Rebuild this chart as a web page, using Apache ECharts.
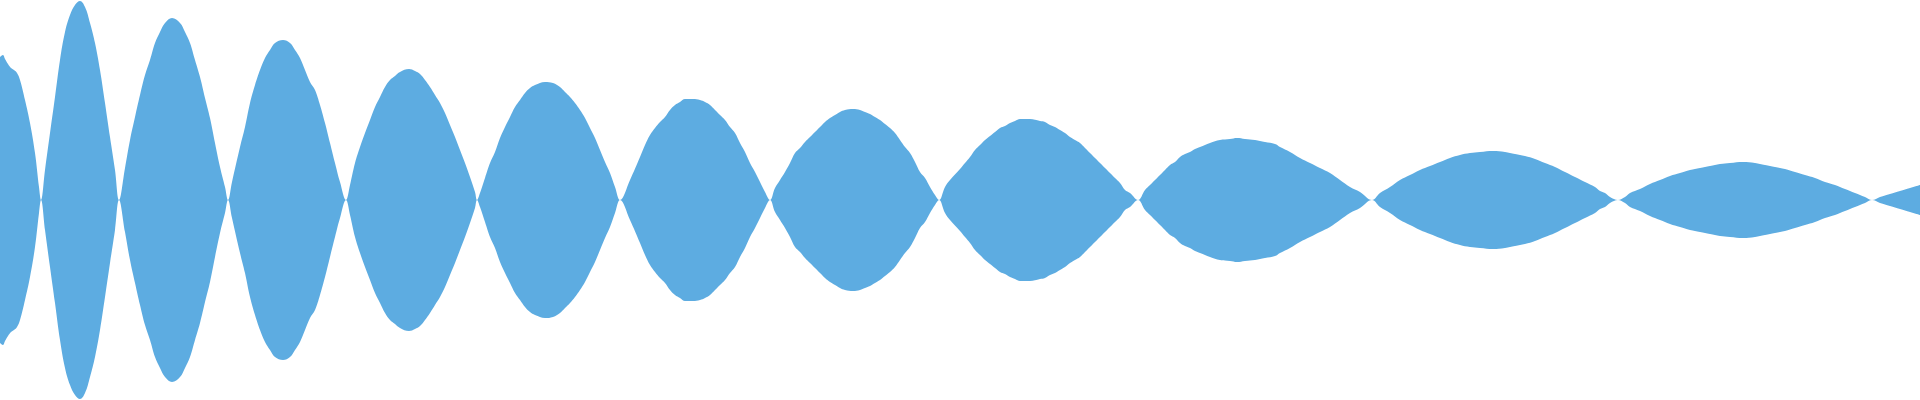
<!DOCTYPE html>
<html>
<head>
<meta charset="utf-8">
<title>envelope</title>
<script src="https://cdn.jsdelivr.net/npm/echarts@6/dist/echarts.min.js"></script>
<style>
    html, body { margin: 0; padding: 0; background: #fff; }
    #main { width: 1920px; height: 400px; }
</style>
</head>
<body>
<div id="main"></div>
<script>
// sample positions, one line per lobe
var time = [
    0, 3, 5, 8, 11, 14, 17, 20, 25, 30, 35, 39, 41,
    45, 50, 55, 60, 65, 70, 75, 80, 85, 90, 95, 100, 105, 110, 115, 119,
    125, 130, 135, 140, 145, 150, 155, 160, 165, 172, 180, 185, 190, 195, 200, 205, 210, 215, 220, 225, 228,
    232, 240, 245, 250, 255, 260, 265, 270, 275, 283, 290, 295, 300, 305, 310, 315, 320, 325, 330, 335, 340, 346,
    350, 355, 360, 365, 370, 375, 380, 385, 390, 395, 400, 409, 415, 420, 425, 430, 435, 440, 445, 450, 455, 460, 465, 470, 475, 477,
    480, 485, 490, 495, 500, 505, 510, 515, 520, 525, 530, 535, 545, 553, 560, 565, 570, 575, 580, 585, 590, 595, 600, 605, 610, 615, 620,
    630, 640, 645, 650, 655, 660, 665, 670, 675, 680, 685, 693, 700, 705, 710, 715, 720, 725, 730, 735, 740, 745, 750, 755, 760, 765, 770,
    775, 780, 785, 790, 795, 800, 805, 810, 815, 820, 825, 830, 835, 840, 845, 853, 860, 865, 870, 875, 880, 885, 890, 895, 900, 905, 910, 915, 920, 925, 930, 935, 939,
    945, 950, 960, 965, 970, 975, 980, 985, 990, 995, 1000, 1005, 1010, 1015, 1020, 1030, 1040, 1045, 1050, 1055, 1060, 1065, 1070, 1075, 1080, 1085, 1090, 1095, 1100, 1105, 1110, 1115, 1120, 1125, 1130, 1138,
    1145, 1150, 1155, 1160, 1165, 1170, 1175, 1180, 1185, 1190, 1195, 1200, 1210, 1220, 1230, 1237, 1245, 1255, 1265, 1275, 1280, 1290, 1300, 1310, 1320, 1330, 1340, 1350, 1360, 1372,
    1380, 1390, 1400, 1410, 1420, 1430, 1440, 1450, 1460, 1470, 1480, 1493, 1505, 1515, 1525, 1535, 1545, 1555, 1565, 1575, 1585, 1595, 1600, 1605, 1610, 1618,
    1625, 1630, 1640, 1650, 1660, 1670, 1680, 1690, 1700, 1710, 1720, 1730, 1743, 1755, 1765, 1775, 1785, 1795, 1805, 1815, 1825, 1835, 1845, 1855, 1865, 1872,
    1880, 1890, 1900, 1910, 1920
];

// half height of the band at each sample
var amplitude = [
    143, 145, 141, 136, 132, 130, 127, 120, 100, 77, 47, 13, 0,
    30, 67, 103, 140, 168, 185, 195, 199, 193, 177, 157, 130, 97, 63, 30, 0,
    32, 60, 83, 105, 125, 140, 157, 168, 177, 182, 177, 168, 157, 140, 123, 102, 82, 57, 33, 13, 0,
    18, 53, 73, 97, 115, 130, 142, 150, 157, 160, 157, 150, 142, 130, 118, 110, 95, 77, 57, 37, 18, 0,
    15, 37, 53, 67, 80, 93, 103, 113, 120, 124, 128, 131, 129, 126, 120, 113, 105, 97, 87, 75, 63, 50, 37, 23, 8, 0,
    7, 22, 37, 48, 62, 73, 83, 93, 100, 107, 112, 115, 118, 117, 113, 108, 103, 97, 90, 82, 72, 62, 50, 38, 27, 13, 0,
    20, 43, 55, 65, 72, 78, 83, 90, 95, 98, 101, 101, 100, 98, 95, 90, 85, 80, 73, 67, 57, 48, 37, 28, 18, 8, 0,
    12, 20, 28, 37, 47, 52, 58, 63, 68, 73, 78, 82, 85, 88, 90, 91, 90, 88, 86, 83, 80, 76, 72, 67, 60, 53, 47, 38, 28, 22, 13, 5, 0,
    13, 20, 31, 37, 43, 50, 55, 60, 64, 68, 72, 74, 77, 79, 81, 81, 79, 78, 75, 73, 70, 67, 63, 60, 57, 52, 47, 42, 37, 32, 27, 22, 17, 10, 7, 0,
    10, 15, 20, 25, 30, 35, 38, 43, 46, 48, 51, 53, 57, 60, 61, 62, 61, 60, 58, 56, 53, 48, 42, 37, 32, 27, 20, 13, 8, 0,
    7, 13, 20, 25, 30, 34, 38, 42, 45, 47, 48, 49, 48, 46, 44, 41, 37, 33, 28, 23, 18, 13, 9, 7, 3, 0,
    3, 7, 11, 16, 20, 24, 27, 30, 32, 34, 36, 37, 38, 37, 35, 33, 31, 28, 25, 22, 18, 15, 11, 7, 3, 0,
    3, 6, 9, 12, 15
];

var color = '#5dace1';

var upper = [], lower = [];
for (var i = 0; i < time.length; i++) {
    upper.push([time[i], amplitude[i]]);
    lower.push([time[i], -amplitude[i]]);
}

function band(name, data) {
    return {
        name: name,
        type: 'line',
        data: data,
        symbol: 'none',
        smooth: 0.4,
        lineStyle: { width: 0 },
        areaStyle: { color: color, opacity: 1 },
        silent: true
    };
}

var myChart = echarts.init(document.getElementById('main'));
myChart.setOption({
    animation: false,
    backgroundColor: '#ffffff',
    grid: { left: 0, right: 0, top: 0, bottom: 0 },
    xAxis: { type: 'value', min: 0, max: 1920, show: false },
    yAxis: { type: 'value', min: -200, max: 200, show: false },
    series: [band('upper', upper), band('lower', lower)]
});
</script>
</body>
</html>
